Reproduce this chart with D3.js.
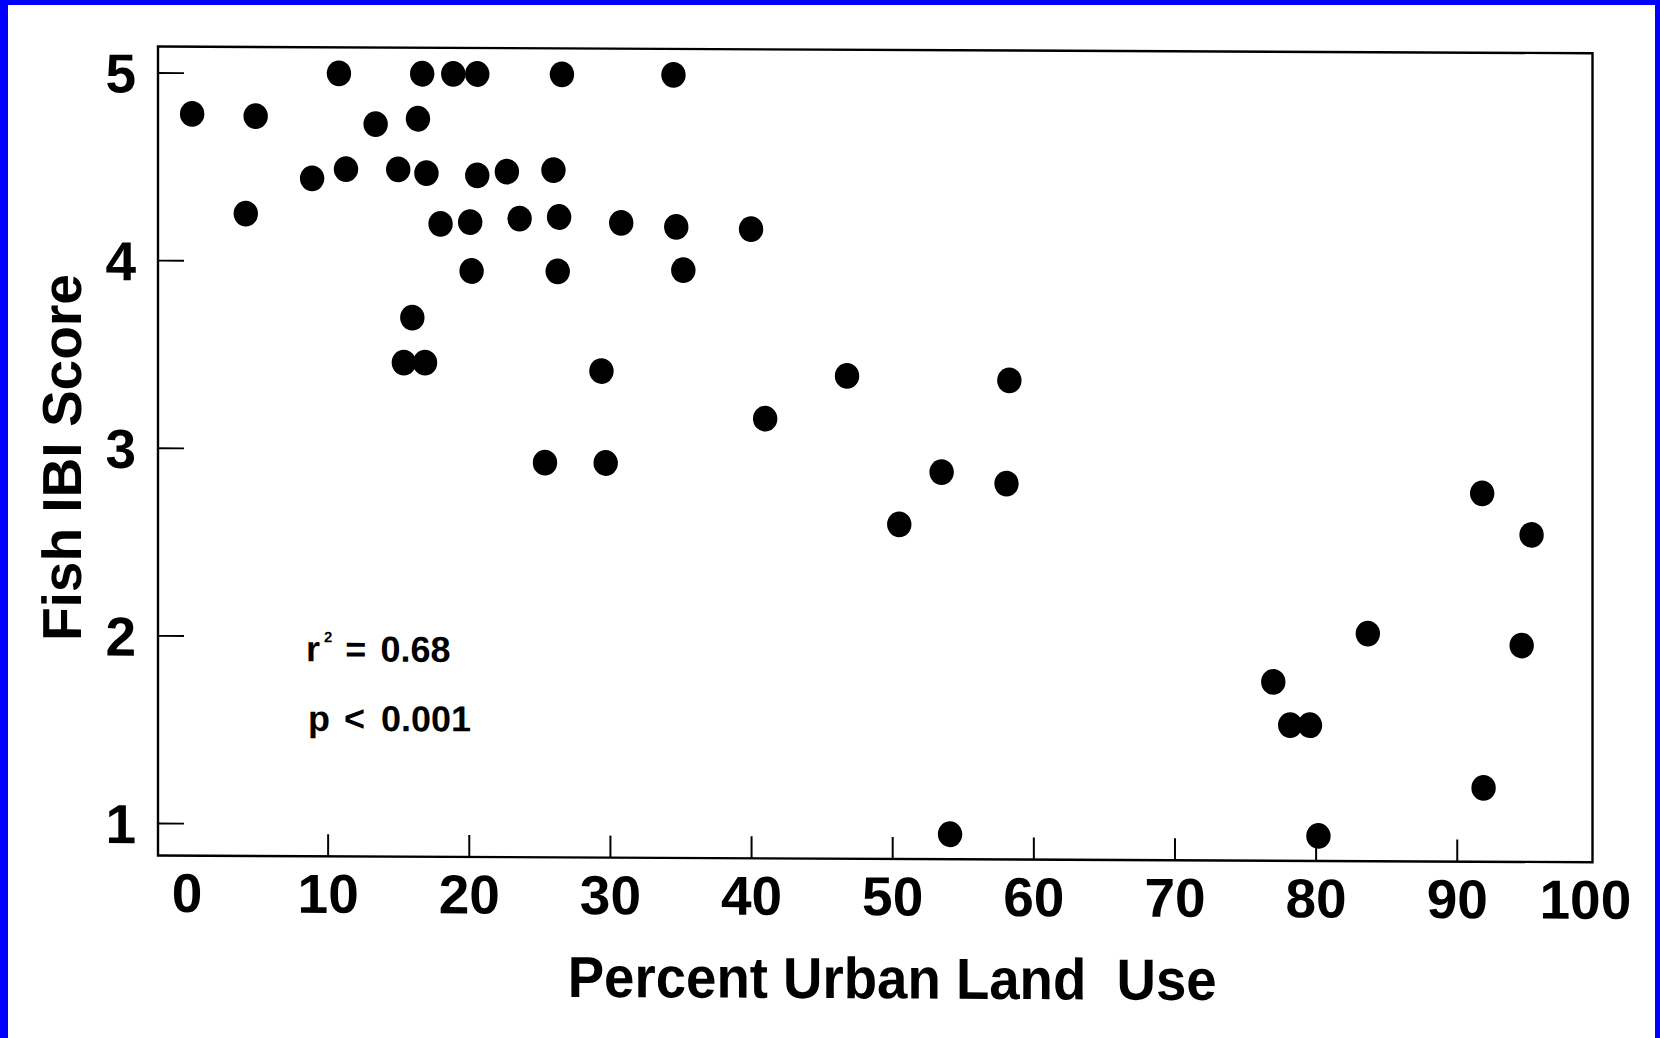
<!DOCTYPE html>
<html>
<head>
<meta charset="utf-8">
<script src="https://cdn.jsdelivr.net/npm/d3@7"></script>
<style>
  html, body { margin: 0; padding: 0; background: #fff; overflow: hidden; }
  svg { display: block; }
  text { font-family: "Liberation Sans", Arial, Helvetica, sans-serif; font-weight: bold; fill: #000; }
</style>
</head>
<body>
<svg id="chart" width="1660" height="1038"></svg>
<script>
// Percent urban land use in each watershed and its fish IBI score
const urbanPct = [
  0.4, 4.9, 10.8, 16.7, 18.9, 20.6, 13.4, 16.4, 8.9, 11.3,
  15.0, 17.0, 20.6, 4.2, 18.0, 20.1, 20.2, 16.0, 15.4, 16.9,
  26.6, 34.5, 22.7, 26.0, 23.6, 26.4, 30.8, 34.7, 40.0, 26.3,
  35.2, 29.4, 41.0, 25.4, 29.7, 46.8, 58.3, 53.5, 58.1, 50.5,
  54.1, 80.2, 91.8, 95.3, 83.7, 94.6, 77.0, 78.2, 79.6, 91.9
];
const ibiScore = [
  4.78, 4.77, 5.0, 5.0, 5.0, 5.0, 4.73, 4.76, 4.44, 4.49,
  4.49, 4.47, 4.46, 4.25, 4.20, 4.21, 3.95, 3.70, 3.46, 3.46,
  5.0, 5.0, 4.48, 4.49, 4.23, 4.24, 4.21, 4.19, 4.18, 3.95,
  3.96, 3.42, 3.17, 2.93, 2.93, 3.40, 3.38, 2.89, 2.83, 2.61,
  0.96, 0.96, 2.79, 2.57, 2.04, 1.98, 1.78, 1.55, 1.55, 1.22
];

const xTickValues = [0, 10, 20, 30, 40, 50, 60, 70, 80, 90, 100];
const yTickValues = [1, 2, 3, 4, 5];
const xTitle = "Percent Urban Land  Use";
const yTitle = "Fish IBI Score";
const rSquared = "0.68";
const pValue = "0.001";

const W = 1660, H = 1038;
const frame = { left: 158, right: 1592.5, top: 46.5, bottom: 855.5 };

const svg = d3.select("#chart");

// blue border on the left, top and right edges
const border = "#0000ff";
svg.append("rect").attr("x", 0).attr("y", 0).attr("width", 8).attr("height", H).attr("fill", border);
svg.append("rect").attr("x", 0).attr("y", 0).attr("width", W).attr("height", 5).attr("fill", border);
svg.append("rect").attr("x", W - 5).attr("y", 0).attr("width", 5).attr("height", H).attr("fill", border);

// the printed figure sits very slightly skewed on the page
const skew = 0.0047;
const g = svg.append("g")
  .attr("transform", `matrix(1,${skew},0,1,0,${-skew * frame.left})`);

const x = d3.scaleLinear().domain([0, 100]).range([186.5, 1597.9]);
const y = d3.scaleLinear().domain([1, 5]).range([823, 72.5]);

// plot frame
g.append("rect")
  .attr("x", frame.left).attr("y", frame.top)
  .attr("width", frame.right - frame.left)
  .attr("height", frame.bottom - frame.top)
  .attr("fill", "none").attr("stroke", "#000").attr("stroke-width", 2.4);

// x axis: inward ticks, labels below
const xAxis = g.append("g")
  .attr("transform", `translate(0,${frame.bottom})`)
  .call(d3.axisBottom(x).tickValues(xTickValues).tickSizeInner(-22).tickSizeOuter(0).tickPadding(17.5).tickFormat(d3.format("d")));
xAxis.select(".domain").remove();
xAxis.selectAll(".tick line")
  .attr("stroke", "#000").attr("stroke-width", 2)
  .filter(d => d === 0 || d === 100).remove();
xAxis.selectAll(".tick text")
  .attr("font-size", 55)
  .attr("font-family", null)
  .attr("dx", d => d === 100 ? -13 : 0);

// y axis: inward ticks, labels to the left
const yAxis = g.append("g")
  .attr("transform", `translate(${frame.left},0)`)
  .call(d3.axisLeft(y).tickValues(yTickValues).tickSizeInner(-26).tickSizeOuter(0).tickPadding(22).tickFormat(d3.format("d")));
yAxis.select(".domain").remove();
yAxis.selectAll(".tick line").attr("stroke", "#000").attr("stroke-width", 1.8);
yAxis.selectAll(".tick text")
  .attr("font-size", 55)
  .attr("font-family", null)
  .attr("dy", "0.36em");

// data points
const points = urbanPct.map((u, i) => ({ u, v: ibiScore[i] }));
g.append("g").selectAll("ellipse")
  .data(points)
  .join("ellipse")
  .attr("cx", d => x(d.u))
  .attr("cy", d => y(d.v))
  .attr("rx", 12.2)
  .attr("ry", 12.9)
  .attr("fill", "#000");

// regression statistics
const r2 = g.append("text")
  .attr("x", 306).attr("y", 660.5)
  .attr("font-size", 36);
r2.append("tspan").text("r");
r2.append("tspan").attr("dx", 4).attr("dy", -19).attr("font-size", 15).text("2");
r2.append("tspan").attr("dx", 13).attr("dy", 19).text("=");
r2.append("tspan").attr("dx", 14).text(rSquared);

const pv = g.append("text")
  .attr("x", 308).attr("y", 730)
  .attr("font-size", 36);
pv.append("tspan").text("p");
pv.append("tspan").attr("dx", 14).text("<");
pv.append("tspan").attr("dx", 16).text(pValue);

// axis titles
g.append("text")
  .attr("x", x(50)).attr("y", 995)
  .attr("text-anchor", "middle")
  .attr("font-size", 58)
  .attr("textLength", 649)
  .attr("lengthAdjust", "spacingAndGlyphs")
  .style("white-space", "pre")
  .text(xTitle);

g.append("text")
  .attr("transform", "translate(80.5,458) rotate(-90)")
  .attr("text-anchor", "middle")
  .attr("font-size", 55)
  .text(yTitle);
</script>
</body>
</html>
